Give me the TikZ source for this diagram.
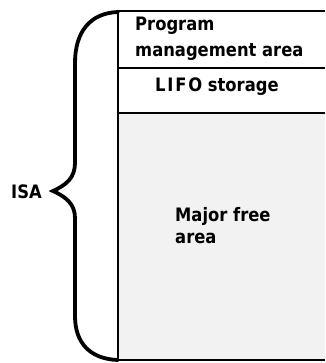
\documentclass[tikz,border=0pt]{standalone}
\usepackage{fontspec}
\setmainfont{DejaVu Sans}[FakeStretch=0.885]
\begin{document}
\begin{tikzpicture}[x=1pt,y=-1pt,
  partline/.style={line width=2pt},
  bracepath/.style={line width=3.8pt,line cap=round,line join=miter},
  label/.style={font=\bfseries\fontsize{18.5}{22}\selectfont,inner sep=0pt,anchor=base west}]
\useasboundingbox (0,0) rectangle (325,363);

% stippled free area
\fill[black!5] (118,113) rectangle (325,360);

% storage column
\draw[partline] (325,11.5) -- (118,11.5) -- (118,360) -- (325,360);
\draw[partline] (118,68.5) -- (325,68.5);
\draw[partline] (118,113) -- (325,113);

% curly brace spanning the whole column
\draw[bracepath] (118,12)
  .. controls (90,13) and (75,32) .. (75,63)
  -- (75,163)
  .. controls (75,178) and (66,185) .. (53,191)
  .. controls (66,197) and (75,204) .. (75,218)
  -- (75,316)
  .. controls (75,343) and (90,359) .. (118,360);

% texts
\node[label] (pm1) at (135,30.5) {Program};
\node[label] (pm2) at (135,57) {management area};
\node[label] (lifo) at (155,91.5) {L\kern1.8pt I\kern1.8pt F\kern1.8pt O storage};
\node[label] (free1) at (175,221.5) {Major free};
\node[label] (free2) at (175,243.5) {area};
\node[label] (isa) at (11,198) {ISA};
\end{tikzpicture}
\end{document}
